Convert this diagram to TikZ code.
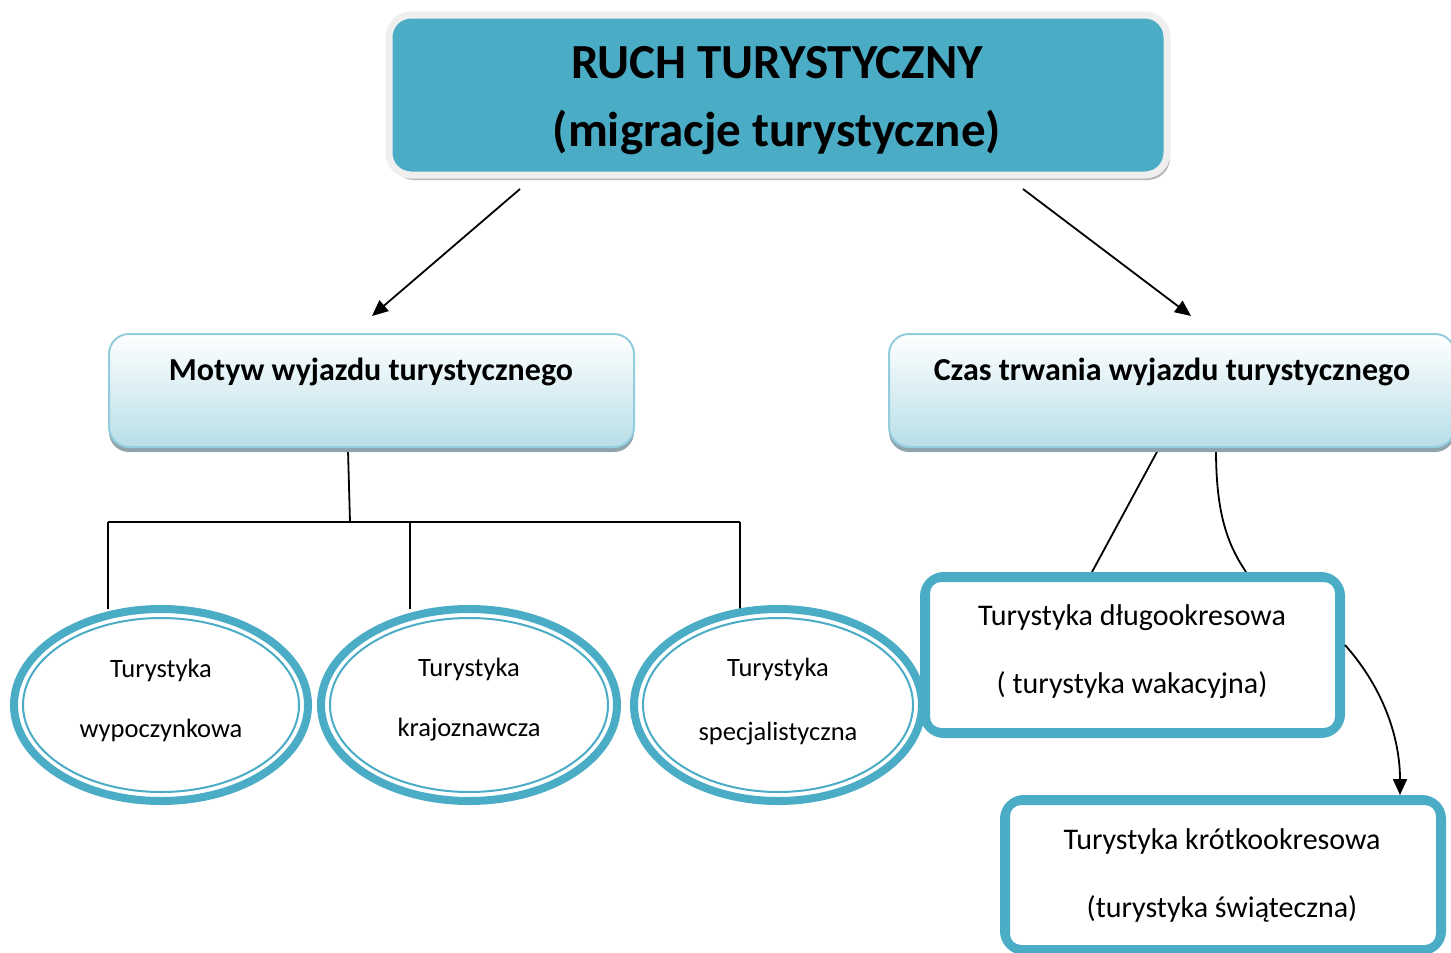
\documentclass[tikz,border=0pt]{standalone}
\usepackage{fontspec}
\setmainfont{Carlito}
\usetikzlibrary{shadows,backgrounds,arrows.meta,calc,shapes.geometric}
\definecolor{tealA}{HTML}{4BACC6}
\definecolor{midBorder}{HTML}{93CDDD}
\definecolor{midBottom}{HTML}{B7DEE8}
\definecolor{midShadow}{HTML}{8FA3AB}
\definecolor{frameGray}{HTML}{EFEFEF}
\definecolor{frameShadow}{HTML}{B8B8B8}
\tikzset{
  topbox/.style={rectangle, rounded corners=22pt, fill=tealA, draw=frameGray, line width=7pt,
    drop shadow={shadow xshift=3pt, shadow yshift=-5pt, fill=frameShadow, opacity=1},
    inner sep=0pt},
  toptext/.style={align=center, font=\bfseries\fontsize{49}{68}\selectfont, inner sep=0pt},
  midbox/.style={rectangle, rounded corners=20pt, top color=white, bottom color=midBottom,
    draw=midBorder, line width=2pt,
    drop shadow={shadow xshift=0pt, shadow yshift=-5pt, fill=midShadow, opacity=1}, inner sep=0pt},
  hdr/.style={font=\bfseries\fontsize{32}{36}\selectfont, inner sep=0pt},
  ell/.style={ellipse, draw=tealA, line width=8pt, fill=white, inner sep=0pt},
  elltext/.style={align=center, font=\fontsize{26.5}{60}\selectfont, inner sep=0pt},
  ringbox/.style={rectangle, rounded corners=20pt, draw=tealA, line width=8pt, fill=white,
    inner sep=0pt},
  boxtext/.style={align=center, font=\fontsize{30}{68}\selectfont, inner sep=0pt},
  innerline/.style={draw=tealA, line width=2pt},
  conn/.style={draw=black, line width=1.8pt},
  arr/.style={conn, -{Triangle[length=16pt,width=14pt]}},
}
\begin{document}
\begin{tikzpicture}[x=1pt,y=-1pt]
\useasboundingbox (0,0) rectangle (1451,953);
\clip (0,0) rectangle (1451,953);

% top box
\node[topbox, minimum width=778, minimum height=160] (top) at (778,95) {};
\node[toptext] (topt) at (777,101) {RUCH TURYSTYCZNY\\(migracje turystyczne)};

% middle boxes
\node[midbox, minimum width=525, minimum height=113] (mL) at (371.5,390.5) {};
\node[hdr] (mLt) at (371,372) {Motyw wyjazdu turystycznego};
\node[midbox, minimum width=566, minimum height=113] (mR) at (1172,390.5) {};
\node[hdr] (mRt) at (1172,372) {Czas trwania wyjazdu turystycznego};

% ellipses
\node[ell, minimum width=294, minimum height=192] (e1) at (161,705) {};
\draw[innerline] (e1.center) ellipse [x radius=138pt, y radius=87pt];
\node[elltext] (e1t) at (161,700) {Turystyka\\wypoczynkowa};
\node[ell, minimum width=296, minimum height=192] (e2) at (469,705) {};
\draw[innerline] (e2.center) ellipse [x radius=139pt, y radius=87pt];
\node[elltext] (e2t) at (469,700) {Turystyka\\krajoznawcza};
\node[ell, minimum width=288, minimum height=192] (e3) at (778,705) {};
\draw[innerline] (e3.center) ellipse [x radius=135pt, y radius=87pt];
\node[elltext] (e3t) at (778,702) {Turystyka\\[4pt]specjalistyczna};

% rectangles
\node[ringbox, minimum width=417, minimum height=158] (L) at (1132.5,655) {};
\draw[innerline, rounded corners=12pt] ($(L.north west)+(9,9)$) rectangle ($(L.south east)+(-9,-9)$);
\node[boxtext] (Lt) at (1132,652) {Turystyka długookresowa\\( turystyka wakacyjna)};
\node[ringbox, minimum width=438, minimum height=152] (S) at (1223,875) {};
\draw[innerline, rounded corners=12pt] ($(S.north west)+(9,9)$) rectangle ($(S.south east)+(-9,-9)$);
\node[boxtext] (St) at (1222,875) {Turystyka krótkookresowa\\(turystyka świąteczna)};

% connectors
\coordinate (a1s) at (520,189);
\coordinate (a1e) at (372,316);
\coordinate (a2s) at (1023,189);
\coordinate (a2e) at (1191,316);
\draw[arr] (a1s) -- (a1e);
\draw[arr] (a2s) -- (a2e);

\begin{scope}[on background layer]
\coordinate (t0) at (348,450);
\coordinate (t1) at (350,522);
\coordinate (b1) at (108,522);
\coordinate (b2) at (410,522);
\coordinate (b3) at (740,522);
\draw[conn] (t0) -- (t1);
\draw[conn] (b1) -- (b3);
\draw[conn] (b1) -- (b1 |- e1.north) -- ++(0,4);
\draw[conn] (b2) -- (b2 |- e2.north) -- ++(0,4);
\draw[conn] (b3) -- (b3 |- e3.north) -- ++(0,4);
\coordinate (r1) at (1158,450);
\coordinate (r2) at (1216,450);
\draw[conn] (r1) -- (L.north -| 1092,0);
\draw[conn] (r2) .. controls (1216,515) and (1228,545) .. (L.north -| 1246,0);
\end{scope}
\draw[arr] (L.east |- 0,645) .. controls (1385,690) and (1400,740) .. (S.north -| 1400,0);
\end{tikzpicture}
\end{document}
